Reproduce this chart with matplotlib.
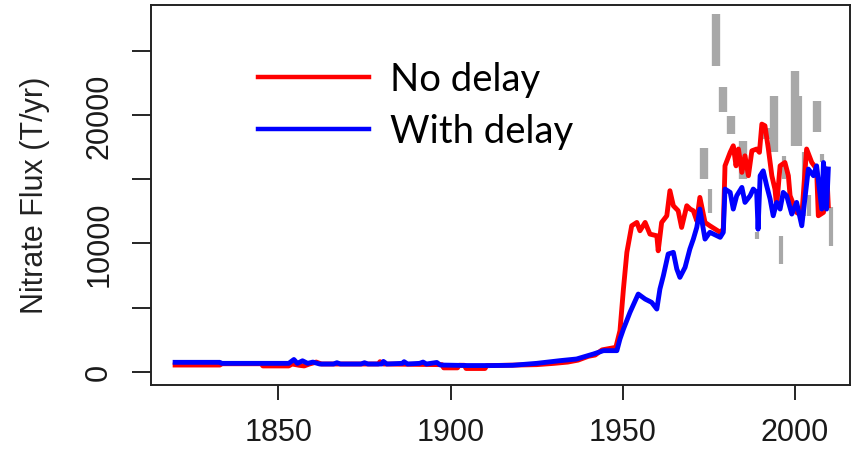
import matplotlib
matplotlib.use("Agg")
import matplotlib.pyplot as plt

# model runs (year, nitrate flux T/yr)
red_year = [1820, 1833, 1833.5, 1845, 1845.5, 1853, 1854, 1856, 1857.5, 1859,
            1861, 1862.5, 1879, 1879.5, 1880.5, 1897.5, 1898, 1902, 1902.5, 1904,
            1904.5, 1910, 1910.5, 1925, 1930, 1934, 1937, 1940, 1942, 1944,
            1946, 1948, 1949.2, 1950.2, 1951.2, 1952.6, 1954.1, 1955, 1956.5, 1957.9,
            1959.9, 1960.3, 1961.3, 1962.8, 1963.7, 1964.7, 1966.1, 1967.1, 1968.6, 1969.6,
            1970.5, 1971.5, 1972.4, 1973.9, 1975.3, 1978.3, 1979.2, 1979.7, 1981.2, 1982.1,
            1982.9, 1983.6, 1984.6, 1985.5, 1986.5, 1987.5, 1988.9, 1989.7, 1990.4, 1991.3,
            1992.3, 1993.3, 1994.2, 1994.7, 1995.7, 1997.1, 1998.1, 1998.6, 2000.5, 2002,
            2003.4, 2004.9, 2006.3, 2006.8, 2008.3, 2009.2, 2009.7]
no_delay = [520, 520, 620, 620, 450, 450, 600, 500, 450, 600,
            750, 600, 600, 780, 600, 550, 300, 300, 500, 500,
            250, 250, 470, 550, 650, 750, 900, 1200, 1300, 1700,
            1800, 1900, 3200, 6440, 9300, 11370, 11630, 10980, 11630, 10720,
            10590, 9420, 11630, 12150, 14100, 12930, 12540, 11240, 12930, 12670,
            12540, 11760, 13580, 11630, 11370, 10860, 11110, 16040, 17090, 17600,
            16040, 17350, 15530, 16820, 15270, 17210, 17350, 17090, 19290, 19160,
            17350, 15270, 14230, 12930, 16040, 16300, 15270, 13710, 12410, 12150,
            17350, 16300, 15790, 12150, 12410, 15790, 12930]

blue_year = [1820, 1833, 1833.5, 1853, 1854.5, 1855.5, 1857, 1858.5, 1860, 1862,
             1866, 1867, 1868, 1874, 1875, 1876, 1880, 1880.5, 1881.5, 1886,
             1886.5, 1887.5, 1891, 1892, 1893, 1896, 1897, 1905, 1912, 1918,
             1925, 1931.8, 1936.6, 1941.5, 1944.4, 1948.3, 1949.2, 1950.2, 1952.1, 1954.5,
             1956.5, 1958.4, 1959.9, 1960.8, 1961.8, 1963.2, 1964.7, 1965.7, 1966.6, 1968.1,
             1969.5, 1970.5, 1971.5, 1972.4, 1973.9, 1975.3, 1978.3, 1979.2, 1979.7, 1981.2,
             1982.1, 1983.1, 1984.6, 1985.5, 1987, 1987.9, 1988.9, 1989.3, 1989.9, 1990.8,
             1991.8, 1992.8, 1993.7, 1994.7, 1995.7, 1996.6, 1997.6, 1999.1, 2000.5, 2002,
             2003, 2003.9, 2005.4, 2006.3, 2007.8, 2008.3, 2009.2, 2009.7]
with_delay = [730, 730, 650, 650, 950, 650, 850, 650, 750, 600,
              600, 700, 600, 600, 700, 600, 600, 800, 600, 650,
              780, 600, 650, 750, 600, 720, 520, 480, 480, 500,
              650, 860, 990, 1380, 1640, 1640, 2550, 3320, 4620, 6050,
              5660, 5400, 4880, 6440, 7480, 9170, 9300, 8000, 7350, 8130,
              9560, 10330, 11240, 12670, 10330, 10860, 10470, 10860, 14230, 13970,
              12670, 13710, 14360, 13190, 13710, 14230, 13970, 11100, 15270, 15650,
              14490, 13450, 12150, 13190, 12670, 13970, 13710, 12280, 13190, 11370,
              13710, 15790, 15270, 16040, 12670, 16300, 12670, 15790]

# observed ranges (grey bars)
obs_year = [1973.6, 1977, 1979.1, 1981.4, 1985, 1991.5, 1994, 2000, 2006.5]
obs_low = [15000, 23800, 20250, 18500, 15000, 18100, 17100, 17600, 18700]
obs_high = [17400, 27900, 22200, 19900, 18000, 19000, 21500, 23400, 21100]

obs2_year = [1975.2, 1989, 1996, 1996.8, 2001.4, 2002.5, 2004, 2008, 2010.5]
obs2_low = [12400, 10300, 8400, 15000, 17600, 12100, 12100, 16300, 9800]
obs2_high = [14200, 10900, 10600, 16800, 21500, 17100, 13800, 17000, 12800]

x_ticks = [1850, 1900, 1950, 2000]
y_ticks = [0, 5000, 10000, 15000, 20000, 25000]
y_labels = ["0", "", "10000", "", "20000", ""]

W, H = 854, 452
fig = plt.figure(figsize=(W / 100, H / 100), dpi=100)
ax = fig.add_axes([151 / W, 1 - 386 / H, (850 - 151) / W, (386 - 6) / H])

grey = "#a8a8a8"
ax.vlines(obs_year, obs_low, obs_high, colors=grey, linewidth=6, capstyle="butt")
ax.vlines(obs2_year, obs2_low, obs2_high, colors=grey, linewidth=3, capstyle="butt")
ax.plot(red_year, no_delay, color="#ff0000", lw=3.5, label="No delay")
ax.plot(blue_year, with_delay, color="#0000ff", lw=3.5, label="With delay")

ax.set_xlim(1813.0, 2016.0)
ax.set_ylim(-1036, 28570)

tick_font = {"family": ["Liberation Sans", "DejaVu Sans"], "size": 22}
ax.set_xticks(x_ticks)
ax.set_xticklabels([str(t) for t in x_ticks], fontdict=tick_font, color="#1a1a1a")
ax.set_yticks(y_ticks)
ax.set_yticklabels(y_labels, fontdict=tick_font, color="#1a1a1a",
                   rotation=90, va="center")
ax.tick_params(axis="x", length=11, width=1.2, pad=12)
ax.tick_params(axis="y", length=13.5, width=1.2, pad=13)
for s in ax.spines.values():
    s.set_linewidth(1.4)
    s.set_color("#222222")

fig.text(35 / W, 1 - 195 / H, "Nitrate Flux (T/yr)", rotation=90,
         ha="center", va="center", fontsize=22, color="#222222",
         family=["Liberation Sans", "DejaVu Sans"])

leg = ax.legend(loc="upper left", bbox_to_anchor=(258 / W, 1 - 62 / H),
                bbox_transform=fig.transFigure, frameon=False,
                prop={"family": ["Lato", "DejaVu Sans"], "size": 27.5},
                handlelength=2.9, handletextpad=0.55, labelspacing=0.42,
                borderaxespad=0, borderpad=0)
for line in leg.get_lines():
    line.set_linewidth(3.2)

fig.savefig("out.png", dpi=100)
